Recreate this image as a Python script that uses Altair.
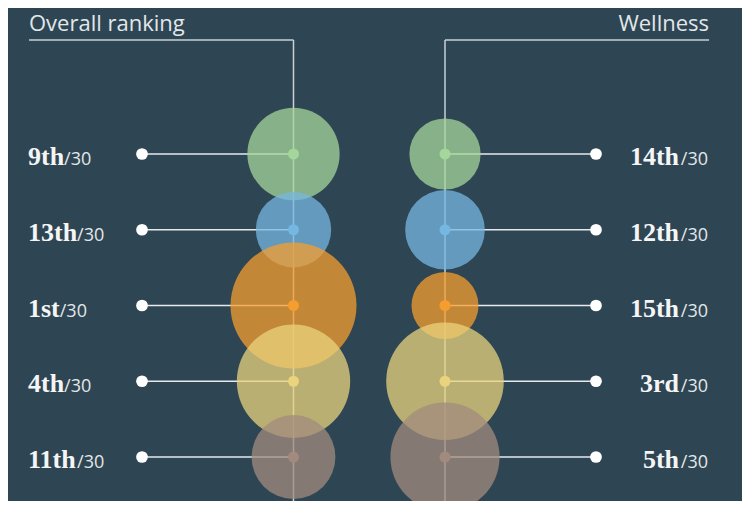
import altair as alt
import pandas as pd

# ---------------- data ----------------
panels = ["Overall ranking", "Wellness"]
overall_rank = [9, 13, 1, 4, 11]
wellness_rank = [14, 12, 15, 3, 5]
out_of = 30
row_colors = ["#a5d69b", "#76b7e2", "#f59d2f", "#e9d37c", "#a28b7e"]

# ---------------- layout / style ----------------
W, H = 734, 493
BG = "#2e4553"
LINE = "#c9d1d5"
CONN = "#e6eaec"
TXT = "#e3e7e9"
RANK_FONT = 26
RANK_FACE = "Liberation Serif"
SANS = "Open Sans"
LEFT_TEXT_X = 20
RIGHT_SUFFIX_X = 700
RIGHT_RANK_X = 671
LEFT_DOT_X = 134
RIGHT_DOT_X = 588
HEAD_Y = 32
# Liberation Serif Bold advance widths (em), used to place "/30" after the rank
SERIF_BOLD_W = {**{str(d): 0.5 for d in range(10)},
                "t": 0.333, "h": 0.556, "s": 0.389, "r": 0.444, "d": 0.556, "n": 0.556}


def ordinal(n):
    if 10 <= n % 100 <= 20:
        suf = "th"
    else:
        suf = {1: "st", 2: "nd", 3: "rd"}.get(n % 10, "th")
    return f"{n}{suf}"


records = []
for c, (panel, ranks) in enumerate(zip(panels, [overall_rank, wellness_rank])):
    for i, r in enumerate(ranks):
        lbl = ordinal(r)
        w = RANK_FONT * sum(SERIF_BOLD_W.get(ch, 0.5) for ch in lbl)
        records.append(dict(panel=panel, col=c, row=i, rank=r, label=lbl,
                            suffix=f"/{out_of}", suffix_x=LEFT_TEXT_X + w))
df = pd.DataFrame(records)

xs = alt.Scale(domain=[0, 1], range=[285.5, 437])
ys = alt.Scale(domain=[0, 4], range=[146, 449])
X = alt.X("col:Q", scale=xs, axis=None)
Y = alt.Y("row:Q", scale=ys, axis=None)
COLOR = alt.Color("row:N", scale=alt.Scale(domain=[0, 1, 2, 3, 4], range=row_colors), legend=None)

base = alt.Chart(df)
left = base.transform_filter("datum.col == 0")
right = base.transform_filter("datum.col == 1")
left0 = base.transform_filter("datum.col == 0 && datum.row == 0")
right0 = base.transform_filter("datum.col == 1 && datum.row == 0")

vlines = base.transform_filter("datum.row == 0").mark_rule(color=LINE, strokeWidth=1.5).encode(
    x=X, y=alt.value(HEAD_Y), y2=alt.value(H))
hl_left = left0.mark_rule(color=LINE, strokeWidth=1.5).encode(x=X, x2=alt.value(21), y=alt.value(HEAD_Y))
hl_right = right0.mark_rule(color=LINE, strokeWidth=1.5).encode(x=X, x2=alt.value(701), y=alt.value(HEAD_Y))
ht_left = left0.mark_text(align="left", baseline="alphabetic", font=SANS, fontSize=22, color=TXT).encode(
    x=alt.value(21), y=alt.value(23), text="panel:N")
ht_right = right0.mark_text(align="right", baseline="alphabetic", font=SANS, fontSize=22, color=TXT).encode(
    x=alt.value(701), y=alt.value(23), text="panel:N")

conn_left = left.mark_rule(color=CONN, strokeWidth=1.5).encode(x=X, x2=alt.value(LEFT_DOT_X), y=Y)
conn_right = right.mark_rule(color=CONN, strokeWidth=1.5).encode(x=X, x2=alt.value(RIGHT_DOT_X), y=Y)

# Vega symbol size = (2r)^2 for circles; rank 1 -> radius 63
bubbles = base.transform_calculate(strength="30.9 - datum.rank").mark_circle(opacity=0.75).encode(
    x=X, y=Y, color=COLOR,
    size=alt.Size("strength:Q", scale=alt.Scale(type="pow", exponent=2, domain=[0, 29.9], range=[0, 4 * 63 ** 2]),
                  legend=None),
    order=alt.Order("row:Q"))

centers = base.mark_circle(size=121, opacity=1).encode(x=X, y=Y, color=COLOR)
dots_left = left.mark_circle(size=137, color="white", opacity=1).encode(x=alt.value(LEFT_DOT_X), y=Y)
dots_right = right.mark_circle(size=137, color="white", opacity=1).encode(x=alt.value(RIGHT_DOT_X), y=Y)

rank_left = left.mark_text(align="left", baseline="alphabetic", dy=11, font=RANK_FACE, fontWeight="bold",
                           fontSize=RANK_FONT, color="#f5f5f5").encode(x=alt.value(LEFT_TEXT_X), y=Y, text="label:N")
suf_left = left.mark_text(align="left", baseline="alphabetic", dy=11, font=SANS, fontSize=18,
                          color=TXT).encode(x=alt.X("suffix_x:Q", scale=None, axis=None), y=Y, text="suffix:N")
rank_right = right.mark_text(align="right", baseline="alphabetic", dy=11, font=RANK_FACE, fontWeight="bold",
                             fontSize=RANK_FONT, color="#f5f5f5").encode(x=alt.value(RIGHT_RANK_X), y=Y, text="label:N")
suf_right = right.mark_text(align="right", baseline="alphabetic", dy=11, font=SANS, fontSize=18,
                            color=TXT).encode(x=alt.value(RIGHT_SUFFIX_X), y=Y, text="suffix:N")

chart = alt.layer(
    vlines, hl_left, hl_right, ht_left, ht_right, conn_left, conn_right,
    bubbles, centers, dots_left, dots_right, rank_left, suf_left, rank_right, suf_right
).resolve_scale(x="independent").properties(
    width=W, height=H, background=BG, padding=0, autosize=alt.AutoSizeParams(type="none")
).configure_view(stroke=None)

chart.save("out.html", embed_options={"renderer": "svg", "actions": False})
